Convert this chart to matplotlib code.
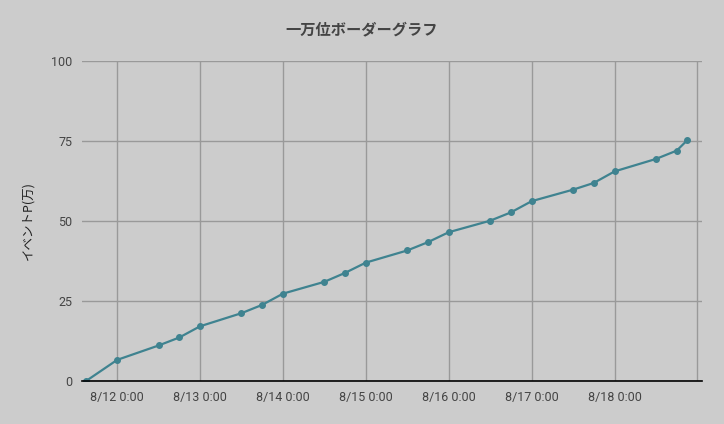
import numpy as np
import matplotlib
matplotlib.use("Agg")
import matplotlib.pyplot as plt
import matplotlib.dates as mdates
import pandas as pd

plt.rcParams['font.family'] = ['Roboto', 'Noto Sans CJK JP', 'DejaVu Sans']

# data
times = pd.to_datetime([
    "2020-08-11 15:00", "2020-08-12 00:00", "2020-08-12 12:00", "2020-08-12 18:00",
    "2020-08-13 00:00", "2020-08-13 12:00", "2020-08-13 18:00",
    "2020-08-14 00:00", "2020-08-14 12:00", "2020-08-14 18:00",
    "2020-08-15 00:00", "2020-08-15 12:00", "2020-08-15 18:00",
    "2020-08-16 00:00", "2020-08-16 12:00", "2020-08-16 18:00",
    "2020-08-17 00:00", "2020-08-17 12:00", "2020-08-17 18:00",
    "2020-08-18 00:00", "2020-08-18 12:00", "2020-08-18 18:00", "2020-08-18 21:00",
])
points = [0, 6.6, 11.1, 13.6,
          17.1, 21.2, 23.8,
          27.3, 31.0, 33.8,
          37.0, 40.8, 43.4,
          46.5, 50.1, 52.7,
          56.2, 59.8, 61.9,
          65.5, 69.4, 72.0, 75.2]
yticks = [0, 25, 50, 75, 100]
title = "一万位ボーダーグラフ"
ylabel = "イベントP(万)"

bg = "#cccccc"
fig = plt.figure(figsize=(7.24, 4.24), dpi=100, facecolor=bg)
ax = fig.add_axes([0.1133, 0.1014, 0.8564, 0.7547], facecolor=bg)

ax.plot(times, points, color="#3f8390", lw=1.6, marker="o", ms=4, zorder=3)

xmax = pd.Timestamp("2020-08-19 01:20")
ax.set_xlim(pd.Timestamp("2020-08-11 13:50"), xmax)
ax.set_ylim(0, 100)
ax.set_yticks(yticks)
ax.xaxis.set_major_locator(mdates.DayLocator())

# the label for the last gridline (8/19) does not fit, so leave it blank
def fmt(x, pos):
    d = mdates.num2date(x)
    if d.replace(tzinfo=None) > times[-1].to_pydatetime():
        return ""
    return f"{d.month}/{d.day} {d.hour}:{d.minute:02d}"
ax.xaxis.set_major_formatter(plt.FuncFormatter(fmt))

ax.grid(True, color="#999999", lw=1)
ax.set_axisbelow(True)
for s in ["top", "right", "left"]:
    ax.spines[s].set_visible(False)
ax.spines["bottom"].set_color("black")
ax.spines["bottom"].set_linewidth(1.2)
ax.spines["bottom"].set_zorder(4)
ax.tick_params(length=0, labelsize=9, colors="#444444", pad=7)

ax.set_ylabel(ylabel, fontsize=9, color="#222222", family=['Noto Sans CJK JP', 'DejaVu Sans'], labelpad=12)
fig.text(0.5, 0.93, title, ha="center", va="center", fontsize=11, fontweight="bold",
         color="#444444", family=['Noto Sans CJK JP', 'DejaVu Sans'])

fig.savefig("out.png", dpi=100, facecolor=bg)
